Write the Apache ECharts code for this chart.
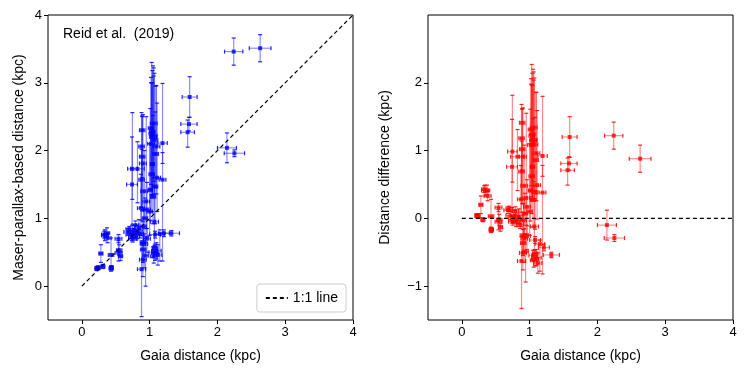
<!DOCTYPE html>
<html>
<head>
<meta charset="utf-8">
<script src="https://cdn.jsdelivr.net/npm/echarts@6/dist/echarts.min.js"></script>
<style>
  html, body { margin: 0; padding: 0; background: #fff; }
  #chart { width: 748px; height: 375px; }
</style>
</head>
<body>
<div id="chart"></div>
<script>
// Gaia distance and its error (kpc)
var gaiaDist = [2.24, 2.63, 1.59, 1.58, 1.56, 2.14, 2.25,
  0.22, 0.24, 0.31, 0.43, 0.44, 0.28, 0.34, 0.37, 0.38, 0.33, 0.43, 0.54, 0.54, 0.55, 0.57,
  0.68, 0.72, 0.74, 0.76, 0.78, 0.80, 0.82, 0.75, 0.84, 0.79, 0.70, 0.86,
  0.88, 0.90, 0.905, 0.92, 0.94, 0.96,
  1.05, 1.08, 1.10, 1.06, 1.12, 1.08,
  1.08, 1.15, 1.21, 1.32,
  1.03, 1.05, 1.04, 1.07, 1.02, 1.10, 1.01, 1.05, 1.08, 1.19, 1.19, 1.06, 1.04, 1.09, 1.00, 1.02,
  0.88, 0.89, 0.90, 0.82, 0.88, 0.92, 0.95, 0.96, 0.93, 0.91, 0.745, 0.74, 0.89,
  1.06, 1.03, 1.07, 0.87, 0.90, 1.11];
var gaiaErr = [0.135, 0.16, 0.11, 0.12, 0.10, 0.14, 0.15,
  0.03, 0.03, 0.03, 0.03, 0.02, 0.03, 0.05, 0.04, 0.05, 0.04, 0.04, 0.05, 0.05, 0.04, 0.03,
  0.06, 0.07, 0.05, 0.08, 0.06, 0.05, 0.07, 0.06, 0.06, 0.05, 0.05, 0.05,
  0.06, 0.05, 0.04, 0.05, 0.04, 0.05,
  0.06, 0.05, 0.07, 0.05, 0.06, 0.04,
  0.08, 0.07, 0.08, 0.12,
  0.04, 0.05, 0.04, 0.05, 0.04, 0.05, 0.03, 0.04, 0.04, 0.07, 0.05, 0.05, 0.03, 0.04, 0.04, 0.05,
  0.04, 0.04, 0.05, 0.10, 0.04, 0.05, 0.05, 0.05, 0.04, 0.04, 0.07, 0.08, 0.04,
  0.05, 0.04, 0.06, 0.05, 0.04, 0.05];
// maser-parallax-based distance and its lower / upper error (kpc)
var maserDist = [3.46, 3.51, 2.79, 2.39, 2.27, 2.04, 1.96,
  0.26, 0.27, 0.29, 0.26, 0.27, 0.48, 0.75, 0.78, 0.71, 0.76, 0.46, 0.49, 0.70, 0.53, 0.44,
  0.80, 0.76, 0.72, 0.78, 0.82, 0.74, 0.80, 0.70, 0.86, 0.90, 0.84, 0.77,
  0.25, 0.39, 0.54, 0.62, 0.45, 0.70,
  0.50, 0.48, 0.52, 0.44, 0.46, 0.56,
  0.76, 0.77, 0.78, 0.78,
  2.25, 2.20, 2.28, 2.16, 2.33, 2.06, 1.42, 1.32, 1.47, 2.11, 1.57, 2.40, 1.80, 1.95, 1.10, 2.10,
  2.06, 1.91, 1.81, 1.73, 1.57, 1.40, 1.25, 1.13, 1.00, 0.88, 1.73, 1.50, 2.30,
  2.22, 1.65, 0.95, 1.15, 0.65, 1.60];
var maserErrLo = [0.20, 0.20, 0.30, 0.10, 0.22, 0.22, 0.05,
  0.03, 0.03, 0.03, 0.04, 0.03, 0.13, 0.08, 0.06, 0.07, 0.05, 0.17, 0.12, 0.06, 0.08, 0.06,
  0.05, 0.06, 0.05, 0.07, 0.08, 0.06, 0.10, 0.05, 0.10, 0.06, 0.04, 0.06,
  0.70, 0.25, 0.15, 0.35, 0.45, 0.20,
  0.08, 0.10, 0.12, 0.10, 0.15, 0.06,
  0.05, 0.40, 0.05, 0.04,
  0.90, 0.85, 0.95, 0.80, 0.90, 0.70, 0.45, 0.40, 0.55, 0.30, 1.20, 0.80, 0.50, 0.50, 0.35, 0.60,
  0.90, 0.80, 0.70, 0.50, 0.60, 0.40, 0.40, 0.40, 0.30, 0.25, 0.45, 0.60, 0.70,
  0.75, 0.55, 0.35, 0.40, 0.30, 0.50];
var maserErrHi = [0.20, 0.20, 0.30, 0.10, 0.18, 0.22, 0.05,
  0.03, 0.03, 0.03, 0.04, 0.03, 0.13, 0.08, 0.08, 0.07, 0.05, 0.25, 0.18, 0.06, 0.08, 0.06,
  0.05, 0.06, 0.05, 0.07, 0.08, 0.06, 0.10, 0.05, 0.12, 0.06, 0.04, 0.06,
  0.36, 0.25, 0.20, 0.15, 0.20, 0.15,
  0.08, 0.10, 0.12, 0.10, 0.15, 0.06,
  0.05, 0.06, 0.05, 0.04,
  1.05, 1.05, 0.90, 0.98, 0.75, 0.90, 1.20, 1.20, 1.10, 0.88, 0.40, 0.70, 1.20, 1.00, 1.00, 0.90,
  0.50, 0.60, 0.72, 0.40, 0.45, 0.60, 1.25, 0.40, 0.30, 0.25, 0.83, 0.70, 0.20,
  1.00, 1.35, 0.60, 0.50, 0.30, 1.10];
var tickValues = [0, 1, 2, 3, 4];
var diffTickValues = [-1, 0, 1, 2];

var font = "'Liberation Sans', Arial, sans-serif";

var leftData = gaiaDist.map(function (x, i) {
  return [x, maserDist[i], gaiaErr[i], maserErrLo[i], maserErrHi[i]];
});
var rightData = gaiaDist.map(function (x, i) {
  return [x, maserDist[i] - x, gaiaErr[i], maserErrLo[i], maserErrHi[i]];
});

function errRender(barColor, capColor) {
  return function (params, api) {
    var x = api.value(0), y = api.value(1), xe = api.value(2);
    var ylo = api.value(3), yhi = api.value(4);
    var c = api.coord([x, y]);
    var l = api.coord([x - xe, y]), r = api.coord([x + xe, y]);
    var b = api.coord([x, y - ylo]), t = api.coord([x, y + yhi]);
    var cap = 2;
    var bar = { stroke: barColor, lineWidth: 1.2 };
    var cs = { stroke: capColor, lineWidth: 1.2 };
    return {
      type: 'group',
      children: [
        { type: 'line', shape: { x1: l[0], y1: c[1], x2: r[0], y2: c[1] }, style: bar },
        { type: 'line', shape: { x1: c[0], y1: b[1], x2: c[0], y2: t[1] }, style: bar },
        { type: 'line', shape: { x1: l[0], y1: c[1] - cap, x2: l[0], y2: c[1] + cap }, style: cs },
        { type: 'line', shape: { x1: r[0], y1: c[1] - cap, x2: r[0], y2: c[1] + cap }, style: cs },
        { type: 'line', shape: { x1: c[0] - cap, y1: b[1], x2: c[0] + cap, y2: b[1] }, style: cs },
        { type: 'line', shape: { x1: c[0] - cap, y1: t[1], x2: c[0] + cap, y2: t[1] }, style: cs }
      ]
    };
  };
}

function xAxisOf(idx) {
  return {
    gridIndex: idx, type: 'value', min: -0.5, max: 4,
    name: 'Gaia distance (kpc)', nameLocation: 'middle', nameGap: 29,
    nameTextStyle: { fontFamily: font, fontSize: 14, color: '#000' },
    axisLine: { show: false, onZero: false },
    axisTick: { show: true, length: 4, lineStyle: { color: '#000' }, customValues: tickValues },
    axisLabel: { fontFamily: font, fontSize: 13, color: '#000', margin: 6, customValues: tickValues },
    splitLine: { show: false }
  };
}

var chart = echarts.init(document.getElementById('chart'));
chart.setOption({
  animation: false,
  grid: [
    { left: 48, top: 15, width: 305, height: 305, show: true, borderColor: '#000', borderWidth: 1 },
    { left: 428, top: 15, width: 305, height: 305, show: true, borderColor: '#000', borderWidth: 1 }
  ],
  xAxis: [xAxisOf(0), xAxisOf(1)],
  yAxis: [
    {
      gridIndex: 0, type: 'value', min: -0.5, max: 4,
      name: 'Maser-parallax-based distance (kpc)', nameLocation: 'middle', nameGap: 22,
      nameTextStyle: { fontFamily: font, fontSize: 14, color: '#000' },
      axisLine: { show: false, onZero: false },
      axisTick: { show: true, length: 4, lineStyle: { color: '#000' }, customValues: tickValues },
      axisLabel: { fontFamily: font, fontSize: 13, color: '#000', margin: 6, customValues: tickValues },
      splitLine: { show: false }
    },
    {
      gridIndex: 1, type: 'value', min: -1.5, max: 3,
      name: 'Distance difference (kpc)', nameLocation: 'middle', nameGap: 36,
      nameTextStyle: { fontFamily: font, fontSize: 14, color: '#000' },
      axisLine: { show: false, onZero: false },
      axisTick: { show: true, length: 4, lineStyle: { color: '#000' }, customValues: diffTickValues },
      axisLabel: {
        fontFamily: font, fontSize: 13, color: '#000', margin: 6, customValues: diffTickValues,
        formatter: function (v) { return v < 0 ? '\u2212' + Math.abs(v) : String(v); }
      },
      splitLine: { show: false }
    }
  ],
  legend: {
    data: ['1:1 line'],
    right: 402, bottom: 63,
    orient: 'vertical',
    itemWidth: 22, itemHeight: 10, itemGap: 0,
    padding: [7, 8, 7, 8],
    borderColor: '#ccc', borderWidth: 1, borderRadius: 3,
    backgroundColor: '#fff',
    itemStyle: { color: 'rgba(0,0,0,0)', borderWidth: 0 },
    textStyle: { fontFamily: font, fontSize: 14, color: '#000' }
  },
  graphic: [{
    type: 'text', left: 63, top: 27,
    style: { text: 'Reid et al.  (2019)', fontFamily: font, fontSize: 14, fill: '#000' }
  }],
  series: [
    {
      name: '1:1 line', type: 'line', xAxisIndex: 0, yAxisIndex: 0,
      data: [[0, 0], [4, 4]], symbol: 'none',
      lineStyle: { color: '#000', width: 1.2, type: [4, 3] }, itemStyle: { color: '#000' }, z: 5
    },
    {
      type: 'custom', xAxisIndex: 0, yAxisIndex: 0, clip: true,
      renderItem: errRender('rgba(0,0,255,0.45)', 'rgba(0,0,255,0.85)'),
      encode: { x: 0, y: 1 }, data: leftData, z: 2
    },
    {
      type: 'scatter', xAxisIndex: 0, yAxisIndex: 0, symbol: 'rect', symbolSize: 4,
      itemStyle: { color: '#0000ff' }, data: leftData, z: 3
    },
    {
      name: 'zero', type: 'line', xAxisIndex: 1, yAxisIndex: 1,
      data: [[0, 0], [4, 0]], symbol: 'none',
      lineStyle: { color: '#000', width: 1.2, type: [4, 3] }, z: 5
    },
    {
      type: 'custom', xAxisIndex: 1, yAxisIndex: 1, clip: true,
      renderItem: errRender('rgba(255,0,0,0.45)', 'rgba(255,0,0,0.85)'),
      encode: { x: 0, y: 1 }, data: rightData, z: 2
    },
    {
      type: 'scatter', xAxisIndex: 1, yAxisIndex: 1, symbol: 'rect', symbolSize: 4,
      itemStyle: { color: '#ff0000' }, data: rightData, z: 3
    }
  ]
});
</script>
</body>
</html>
